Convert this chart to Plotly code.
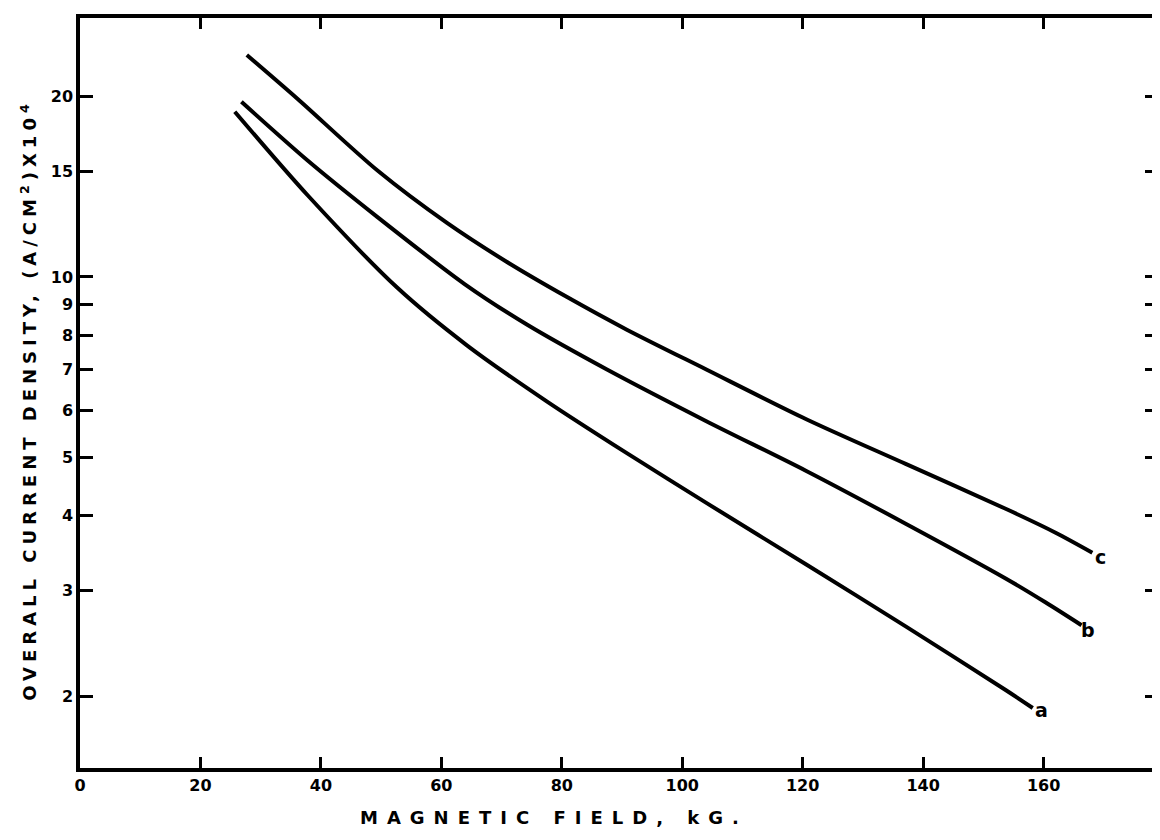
import math
import plotly.graph_objects as go

# Data (magnetic field in kG, current density in 1e4 A/cm^2)
a_field = [25.7, 37.8, 52.7, 64.3, 77.5, 90.8, 104.0, 120.6, 137.1, 153.7, 158.2]
a_density = [18.85, 13.68, 9.59, 7.685, 6.205, 5.086, 4.203, 3.317, 2.617, 2.050, 1.913]

b_field = [26.8, 37.8, 49.4, 63.8, 74.2, 87.5, 104.0, 120.6, 137.1, 153.7, 160.3, 166.3]
b_density = [19.58, 15.63, 12.58, 9.74, 8.33, 7.01, 5.75, 4.75, 3.88, 3.145, 2.87, 2.628]

c_field = [27.7, 36.1, 49.4, 61.0, 70.9, 80.8, 90.8, 104.0, 120.6, 137.1, 153.7, 162.0, 168.1]
c_density = [23.43, 19.81, 15.04, 12.29, 10.59, 9.265, 8.168, 7.010, 5.793, 4.880, 4.109, 3.749, 3.472]

curve_labels = ["a", "b", "c"]
label_x = [159.7, 167.4, 169.4]
label_y = [1.90, 2.58, 3.41]

x_ticks = [0, 20, 40, 60, 80, 100, 120, 140, 160]
y_ticks = [2, 3, 4, 5, 6, 7, 8, 9, 10, 15, 20]

FONT = "DejaVu Sans"

fig = go.Figure()
for xs, ys in [(a_field, a_density), (b_field, b_density), (c_field, c_density)]:
    fig.add_trace(go.Scatter(x=xs, y=ys, mode="lines",
                             line=dict(color="black", width=4, shape="spline", smoothing=0.8),
                             showlegend=False, hoverinfo="skip"))

# annotations on a log axis take log10 coordinates
for t, lx, ly in zip(curve_labels, label_x, label_y):
    fig.add_annotation(x=lx, y=math.log10(ly), yref="y", xref="x", text=f"<b>{t}</b>", showarrow=False,
                       font=dict(family=FONT, size=19, color="black"), xanchor="center", yanchor="middle")

fig.update_xaxes(range=[0, 179], tickvals=x_ticks, ticktext=[str(v) for v in x_ticks],
                 ticks="inside", ticklen=11, tickwidth=2.5, tickcolor="black",
                 showline=True, linewidth=3.5, linecolor="black", mirror="ticks",
                 showgrid=False, zeroline=False,
                 tickfont=dict(family=FONT, size=16, color="black", weight="bold"))
fig.update_yaxes(type="log", range=[0.1818, 1.4314], tickvals=y_ticks,
                 ticktext=[str(v) for v in y_ticks],
                 ticks="inside", ticklen=13, tickwidth=2.5, tickcolor="black",
                 showline=True, linewidth=3.5, linecolor="black", mirror="ticks",
                 showgrid=False, zeroline=False,
                 tickfont=dict(family=FONT, size=16, color="black", weight="bold"))

fig.add_annotation(xref="paper", yref="paper", x=0.44, y=-0.0665,
                   text='<span style="letter-spacing:9px">MAGNETIC FIELD, kG.</span>',
                   showarrow=False, xanchor="center", yanchor="middle",
                   font=dict(family=FONT, size=18, color="black", weight="bold"))
fig.add_annotation(xref="paper", yref="paper", x=-0.048, y=0.49,
                   text='<span style="letter-spacing:5px">OVERALL CURRENT DENSITY, (A/CM<sup>2</sup>)X10<sup>4</sup></span>',
                   showarrow=False, xanchor="center", yanchor="middle", textangle=-90,
                   font=dict(family=FONT, size=18, color="black", weight="bold"))

fig.update_layout(width=1160, height=840, paper_bgcolor="white", plot_bgcolor="white",
                  margin=dict(l=72, r=6, t=8, b=80), showlegend=False)

fig.write_html("out.html")
